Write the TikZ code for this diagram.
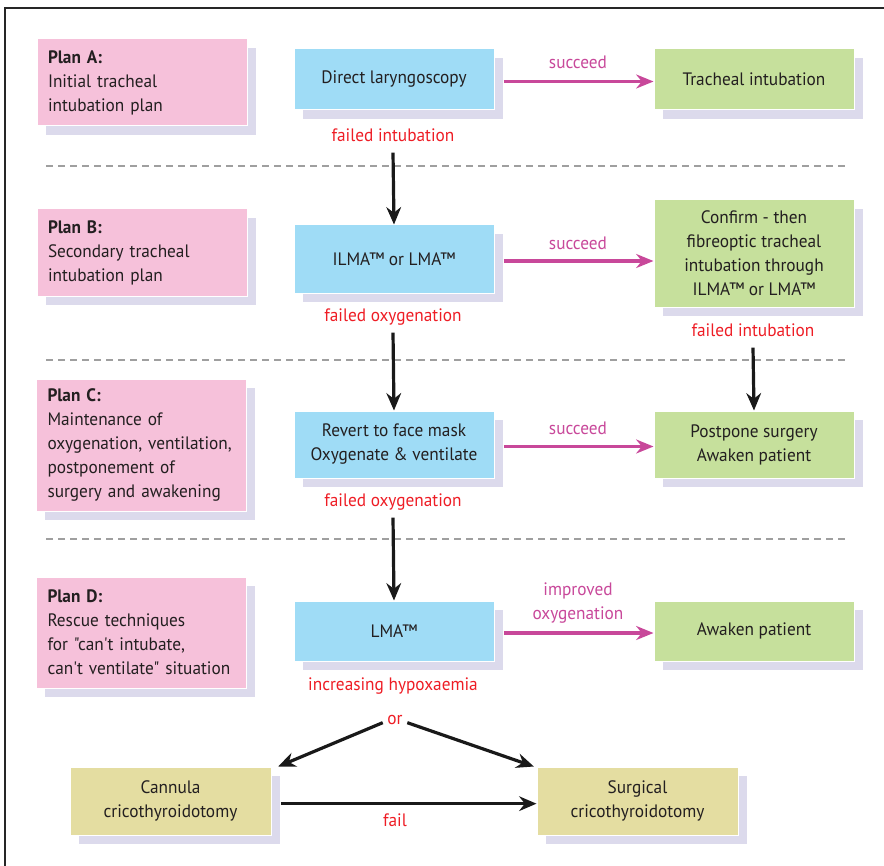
\documentclass[tikz,border=0pt]{standalone}
\usepackage{fontspec}
\setmainfont{PT Sans}[FakeStretch=0.96, Ligatures=TeXOff]
\usepackage{xcolor}
\usetikzlibrary{shadows, arrows.meta}

\definecolor{planpink}{HTML}{F6C1DA}
\definecolor{stepblue}{HTML}{9FDCF6}
\definecolor{okgreen}{HTML}{C6E09C}
\definecolor{rescuekhaki}{HTML}{E4DDA1}
\definecolor{shadowlilac}{HTML}{DCDAEC}
\definecolor{succmagenta}{HTML}{C8489A}
\definecolor{failred}{HTML}{EE1D25}
\definecolor{boxtext}{HTML}{231F20}

\begin{document}
\begin{tikzpicture}[x=0.75pt, y=-0.75pt,
    every node/.style={font=\fontsize{13.5}{18}\selectfont, text=boxtext},
    box/.style={draw=white, line width=0.75pt, align=center, inner sep=0pt,
        drop shadow={shadow xshift=6.5pt, shadow yshift=-6.5pt, fill=shadowlilac, opacity=1}},
    planbox/.style={box, fill=planpink, minimum width=157.5pt, text width=141pt, align=left, minimum height=#1},
    bluebox/.style={box, fill=stepblue, minimum width=150pt, minimum height=#1},
    greenbox/.style={box, fill=okgreen, minimum width=150pt, minimum height=#1},
    rescuebox/.style={box, fill=rescuekhaki, minimum width=150.75pt, minimum height=51pt},
    faillabel/.style={text=failred, text height=10pt, text depth=3pt, inner ysep=5pt},
    oklabel/.style={text=succmagenta, align=center},
    okarrow/.style={draw=succmagenta, line width=2.4pt, -{Stealth[length=13pt, width=10.5pt]}},
    failarrow/.style={draw=black!90, line width=2.4pt, -{Stealth[length=13pt, width=11pt]}}]
    %\draw[step=10, gray!20, very thin] (0, 0) grid (884, 866);

    \useasboundingbox (0, 0) rectangle (884, 866);
    \draw[black!85, line width=0.8pt] (5, 866) -- (5, 8) -- (884, 8);

    \draw[gray!75, line width=1.3pt, dash pattern=on 5.5pt off 3.5pt] (46, 166) -- (849, 166);
    \draw[gray!75, line width=1.3pt, dash pattern=on 5.5pt off 3.5pt] (46, 360) -- (849, 360);
    \draw[gray!75, line width=1.3pt, dash pattern=on 5.5pt off 3.5pt] (46, 539) -- (849, 539);

    % Plan A
    \node[planbox=65.25pt] (planA) at (142, 82.5) {\textbf{Plan A:}\\Initial tracheal\\intubation plan};
    \node[bluebox=45.75pt] (lary) at (394, 79.5) {Direct laryngoscopy};
    \node[greenbox=45.75pt] (tube) at (754, 79.5) {Tracheal intubation};
    \node[oklabel] (okA) at (578, 62) {succeed};
    \node[faillabel] (failA) at (393, 137) {failed intubation};

    % Plan B
    \node[planbox=65.25pt] (planB) at (142, 252.5) {\textbf{Plan B:}\\Secondary tracheal\\intubation plan};
    \node[bluebox=51pt] (ilma) at (394, 259) {ILMA™ or LMA™};
    \node[greenbox=80.25pt] (fibre) at (754, 253.5) {Confirm - then\\fibreoptic tracheal\\intubation through\\ILMA™ or LMA™};
    \node[oklabel] (okB) at (578, 243) {succeed};
    \node[faillabel] (failB) at (393, 317) {failed oxygenation};
    \node[faillabel] (failF) at (753, 332) {failed intubation};

    % Plan C
    \node[planbox=99pt] (planC) at (141.5, 445) {\textbf{Plan C:}\\Maintenance of\\oxygenation, ventilation,\\postponement of\\surgery and awakening};
    \node[bluebox=50.25pt] (mask) at (394, 444.5) {Revert to face mask\\Oxygenate \& ventilate};
    \node[greenbox=50.25pt] (postpone) at (754, 444.5) {Postpone surgery\\Awaken patient};
    \node[oklabel] (okC) at (578, 428) {succeed};
    \node[faillabel] (failC) at (393, 502) {failed oxygenation};

    % Plan D
    \node[planbox=83.25pt] (planD) at (141.5, 632.5) {\textbf{Plan D:}\\Rescue techniques\\for "can't intubate,\\can't ventilate" situation};
    \node[bluebox=45pt] (lma) at (394, 631) {LMA™};
    \node[greenbox=45pt] (awaken) at (754, 631) {Awaken patient};
    \node[oklabel] (okD) at (578, 603.5) {improved\\oxygenation};
    \node[faillabel] (failD) at (393, 686) {increasing hypoxaemia};
    \node[faillabel] (either) at (395, 720) {or};
    \node[rescuebox] (cannula) at (170.5, 801) {Cannula\\cricothyroidotomy};
    \node[rescuebox] (surgical) at (637.5, 801) {Surgical\\cricothyroidotomy};
    \node[faillabel] (failS) at (395, 822) {fail};

    \draw[okarrow] ([xshift=7pt, yshift=-1.5pt]lary.east) -- ([yshift=-1.5pt]tube.west);
    \draw[okarrow] ([xshift=7pt, yshift=-1.5pt]ilma.east) -- ([yshift=-1.5pt]ilma.east -| fibre.west);
    \draw[okarrow] ([xshift=7pt, yshift=-1.5pt]mask.east) -- ([yshift=-1.5pt]postpone.west);
    \draw[okarrow] ([xshift=7pt, yshift=-1.5pt]lma.east) -- ([yshift=-1.5pt]awaken.west);

    \draw[failarrow] (failA.south) -- (ilma.north);
    \draw[failarrow] (failB.south) -- (mask.north);
    \draw[failarrow] (failF.south) -- (postpone.north);
    \draw[failarrow] (failC.south) -- (lma.north);
    \draw[failarrow] ([yshift=-2pt]either.west) -- ([xshift=5pt]cannula.north east);
    \draw[failarrow] ([yshift=-2pt]either.east) -- ([xshift=-2pt]surgical.north west);
    \draw[failarrow] ([xshift=7pt, yshift=-2pt]cannula.east) -- ([yshift=-2pt]surgical.west);

\end{tikzpicture}
\end{document}
